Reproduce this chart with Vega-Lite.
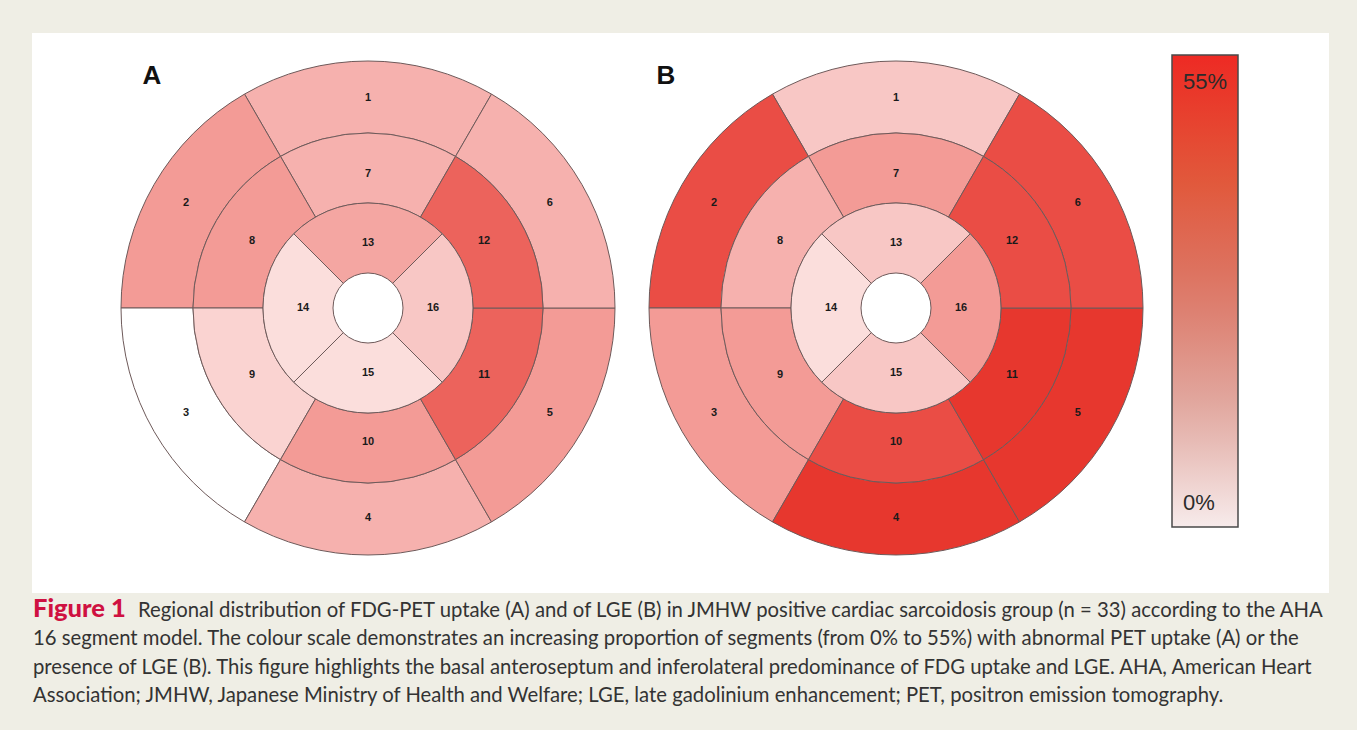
{
  "$schema": "https://vega.github.io/schema/vega-lite/v6.json",
  "background": "#efeee5",
  "padding": {"left": 32, "top": 33, "right": 28, "bottom": 0},
  "autosize": {"type": "pad"},
  "spacing": 0,
  "config": {"view": {"stroke": null}},
  "datasets": {
    "seg": [
      {"chart": "A", "ring": "basal", "seg": 1, "pct": 21.2},
      {"chart": "A", "ring": "basal", "seg": 2, "pct": 27.3},
      {"chart": "A", "ring": "basal", "seg": 3, "pct": 0},
      {"chart": "A", "ring": "basal", "seg": 4, "pct": 21.2},
      {"chart": "A", "ring": "basal", "seg": 5, "pct": 27.3},
      {"chart": "A", "ring": "basal", "seg": 6, "pct": 21.2},
      {"chart": "A", "ring": "mid", "seg": 7, "pct": 21.2},
      {"chart": "A", "ring": "mid", "seg": 8, "pct": 27.3},
      {"chart": "A", "ring": "mid", "seg": 9, "pct": 12.1},
      {"chart": "A", "ring": "mid", "seg": 10, "pct": 27.3},
      {"chart": "A", "ring": "mid", "seg": 11, "pct": 42.4},
      {"chart": "A", "ring": "mid", "seg": 12, "pct": 42.4},
      {"chart": "A", "ring": "apical", "seg": 13, "pct": 24.2},
      {"chart": "A", "ring": "apical", "seg": 14, "pct": 9.1},
      {"chart": "A", "ring": "apical", "seg": 15, "pct": 9.1},
      {"chart": "A", "ring": "apical", "seg": 16, "pct": 15.2},
      {"chart": "B", "ring": "basal", "seg": 1, "pct": 15.2},
      {"chart": "B", "ring": "basal", "seg": 2, "pct": 48.5},
      {"chart": "B", "ring": "basal", "seg": 3, "pct": 27.3},
      {"chart": "B", "ring": "basal", "seg": 4, "pct": 54.5},
      {"chart": "B", "ring": "basal", "seg": 5, "pct": 54.5},
      {"chart": "B", "ring": "basal", "seg": 6, "pct": 48.5},
      {"chart": "B", "ring": "mid", "seg": 7, "pct": 27.3},
      {"chart": "B", "ring": "mid", "seg": 8, "pct": 21.2},
      {"chart": "B", "ring": "mid", "seg": 9, "pct": 27.3},
      {"chart": "B", "ring": "mid", "seg": 10, "pct": 48.5},
      {"chart": "B", "ring": "mid", "seg": 11, "pct": 54.5},
      {"chart": "B", "ring": "mid", "seg": 12, "pct": 48.5},
      {"chart": "B", "ring": "apical", "seg": 13, "pct": 15.2},
      {"chart": "B", "ring": "apical", "seg": 14, "pct": 9.1},
      {"chart": "B", "ring": "apical", "seg": 15, "pct": 15.2},
      {"chart": "B", "ring": "apical", "seg": 16, "pct": 27.3}
    ],
    "letters": [{"chart": "A"}, {"chart": "B"}],
    "caption": [
      {"line": 1, "part": "head", "text": "Figure 1"},
      {"line": 1, "part": "first", "text": "Regional distribution of FDG-PET uptake (A) and of LGE (B) in JMHW positive cardiac sarcoidosis group (n = 33) according to the AHA"},
      {"line": 2, "part": "body", "text": "16 segment model. The colour scale demonstrates an increasing proportion of segments (from 0% to 55%) with abnormal PET uptake (A) or the"},
      {"line": 3, "part": "body", "text": "presence of LGE (B). This figure highlights the basal anteroseptum and inferolateral predominance of FDG uptake and LGE. AHA, American Heart"},
      {"line": 4, "part": "body", "text": "Association; JMHW, Japanese Ministry of Health and Welfare; LGE, late gadolinium enhancement; PET, positron emission tomography."}
    ]
  },
  "vconcat": [
    {
      "width": 1297,
      "height": 560,
      "view": {"fill": "#ffffff", "stroke": null},
      "data": {"name": "seg"},
      "encoding": {
        "x": {"field": "chart", "type": "nominal", "scale": {"type": "point", "domain": ["A", "B"], "range": [336, 864], "padding": 0}, "axis": null},
        "y": {"field": "chart", "type": "nominal", "scale": {"type": "point", "domain": ["A", "B"], "range": [275, 275], "padding": 0}, "axis": null}
      },
      "layer": [
        {
          "transform": [{"filter": "datum.chart === 'B' && datum.ring === 'apical'"}],
          "mark": {"type": "arc", "outerRadius": 105, "innerRadius": 35, "fillOpacity": 0, "strokeOpacity": 0},
          "encoding": {
            "theta": {"aggregate": "count", "type": "quantitative", "stack": true, "scale": {"domain": [0, 4], "range": [0.7853982, -5.4977871]}},
            "order": {"field": "seg", "type": "quantitative"},
            "color": {"field": "pct", "type": "quantitative", "scale": {"domain": [0, 55], "range": ["#f7ebeb", "#e1a9a1", "#dc7868", "#e15638", "#ee2a24"], "interpolate": "rgb"},
              "legend": {"type": "gradient", "orient": "none", "legendX": 1140, "legendY": 22, "direction": "vertical", "gradientLength": 472, "gradientThickness": 66, "title": null, "values": [2.8, 51.9], "labelExpr": "datum.value > 25 ? '55%' : '0%'", "labelOffset": -55, "labelFontSize": 22, "labelFont": "Liberation Sans", "labelColor": "#2b2b2b", "gradientStrokeColor": "#4a4a4a", "gradientStrokeWidth": 1.5}}
          }
        },
        {
          "transform": [{"filter": "datum.chart === 'A' && datum.ring === 'basal'"}],
          "mark": {"type": "arc", "outerRadius": 247, "innerRadius": 175, "stroke": "#6e5a5a", "strokeWidth": 1},
          "encoding": {
            "theta": {"aggregate": "count", "type": "quantitative", "stack": true, "scale": {"domain": [0, 6], "range": [0.5235988, -5.7595865]}},
            "order": {"field": "seg", "type": "quantitative"},
            "fill": {"field": "pct", "type": "quantitative", "scale": {"domain": [0, 55], "range": ["#ffffff", "#e7352c"], "interpolate": "rgb"}, "legend": null}
          }
        },
        {
          "transform": [{"filter": "datum.chart === 'A' && datum.ring === 'mid'"}],
          "mark": {"type": "arc", "outerRadius": 175, "innerRadius": 105, "stroke": "#6e5a5a", "strokeWidth": 1},
          "encoding": {
            "theta": {"aggregate": "count", "type": "quantitative", "stack": true, "scale": {"domain": [0, 6], "range": [0.5235988, -5.7595865]}},
            "order": {"field": "seg", "type": "quantitative"},
            "fill": {"field": "pct", "type": "quantitative", "legend": null}
          }
        },
        {
          "transform": [{"filter": "datum.chart === 'A' && datum.ring === 'apical'"}],
          "mark": {"type": "arc", "outerRadius": 105, "innerRadius": 35, "stroke": "#6e5a5a", "strokeWidth": 1},
          "encoding": {
            "theta": {"aggregate": "count", "type": "quantitative", "stack": true, "scale": {"domain": [0, 4], "range": [0.7853982, -5.4977871]}},
            "order": {"field": "seg", "type": "quantitative"},
            "fill": {"field": "pct", "type": "quantitative", "legend": null}
          }
        },
        {
          "transform": [{"filter": "datum.chart === 'B' && datum.ring === 'basal'"}],
          "mark": {"type": "arc", "outerRadius": 247, "innerRadius": 175, "stroke": "#6e5a5a", "strokeWidth": 1},
          "encoding": {
            "theta": {"aggregate": "count", "type": "quantitative", "stack": true, "scale": {"domain": [0, 6], "range": [0.5235988, -5.7595865]}},
            "order": {"field": "seg", "type": "quantitative"},
            "fill": {"field": "pct", "type": "quantitative", "legend": null}
          }
        },
        {
          "transform": [{"filter": "datum.chart === 'B' && datum.ring === 'mid'"}],
          "mark": {"type": "arc", "outerRadius": 175, "innerRadius": 105, "stroke": "#6e5a5a", "strokeWidth": 1},
          "encoding": {
            "theta": {"aggregate": "count", "type": "quantitative", "stack": true, "scale": {"domain": [0, 6], "range": [0.5235988, -5.7595865]}},
            "order": {"field": "seg", "type": "quantitative"},
            "fill": {"field": "pct", "type": "quantitative", "legend": null}
          }
        },
        {
          "transform": [{"filter": "datum.chart === 'B' && datum.ring === 'apical'"}],
          "mark": {"type": "arc", "outerRadius": 105, "innerRadius": 35, "stroke": "#6e5a5a", "strokeWidth": 1},
          "encoding": {
            "theta": {"aggregate": "count", "type": "quantitative", "stack": true, "scale": {"domain": [0, 4], "range": [0.7853982, -5.4977871]}},
            "order": {"field": "seg", "type": "quantitative"},
            "fill": {"field": "pct", "type": "quantitative", "legend": null}
          }
        },
        {
          "transform": [{"filter": "datum.chart === 'A' && datum.ring === 'basal'"}],
          "mark": {"type": "text", "radius": 210, "fontSize": 11, "fontWeight": "bold", "font": "Liberation Sans", "color": "#1a1a1a"},
          "encoding": {
            "theta": {"aggregate": "count", "type": "quantitative", "stack": true, "scale": {"domain": [0, 6], "range": [0.5235988, -5.7595865]}},
            "order": {"field": "seg", "type": "quantitative"},
            "text": {"field": "seg", "type": "nominal"}
          }
        },
        {
          "transform": [{"filter": "datum.chart === 'A' && datum.ring === 'mid'"}],
          "mark": {"type": "text", "radius": 134, "fontSize": 11, "fontWeight": "bold", "font": "Liberation Sans", "color": "#1a1a1a"},
          "encoding": {
            "theta": {"aggregate": "count", "type": "quantitative", "stack": true, "scale": {"domain": [0, 6], "range": [0.5235988, -5.7595865]}},
            "order": {"field": "seg", "type": "quantitative"},
            "text": {"field": "seg", "type": "nominal"}
          }
        },
        {
          "transform": [{"filter": "datum.chart === 'A' && datum.ring === 'apical'"}],
          "mark": {"type": "text", "radius": 65, "fontSize": 11, "fontWeight": "bold", "font": "Liberation Sans", "color": "#1a1a1a"},
          "encoding": {
            "theta": {"aggregate": "count", "type": "quantitative", "stack": true, "scale": {"domain": [0, 4], "range": [0.7853982, -5.4977871]}},
            "order": {"field": "seg", "type": "quantitative"},
            "text": {"field": "seg", "type": "nominal"}
          }
        },
        {
          "transform": [{"filter": "datum.chart === 'B' && datum.ring === 'basal'"}],
          "mark": {"type": "text", "radius": 210, "fontSize": 11, "fontWeight": "bold", "font": "Liberation Sans", "color": "#1a1a1a"},
          "encoding": {
            "theta": {"aggregate": "count", "type": "quantitative", "stack": true, "scale": {"domain": [0, 6], "range": [0.5235988, -5.7595865]}},
            "order": {"field": "seg", "type": "quantitative"},
            "text": {"field": "seg", "type": "nominal"}
          }
        },
        {
          "transform": [{"filter": "datum.chart === 'B' && datum.ring === 'mid'"}],
          "mark": {"type": "text", "radius": 134, "fontSize": 11, "fontWeight": "bold", "font": "Liberation Sans", "color": "#1a1a1a"},
          "encoding": {
            "theta": {"aggregate": "count", "type": "quantitative", "stack": true, "scale": {"domain": [0, 6], "range": [0.5235988, -5.7595865]}},
            "order": {"field": "seg", "type": "quantitative"},
            "text": {"field": "seg", "type": "nominal"}
          }
        },
        {
          "transform": [{"filter": "datum.chart === 'B' && datum.ring === 'apical'"}],
          "mark": {"type": "text", "radius": 65, "fontSize": 11, "fontWeight": "bold", "font": "Liberation Sans", "color": "#1a1a1a"},
          "encoding": {
            "theta": {"aggregate": "count", "type": "quantitative", "stack": true, "scale": {"domain": [0, 4], "range": [0.7853982, -5.4977871]}},
            "order": {"field": "seg", "type": "quantitative"},
            "text": {"field": "seg", "type": "nominal"}
          }
        },
        {
          "data": {"name": "letters"},
          "transform": [{"filter": "datum.chart === 'A'"}],
          "mark": {"type": "text", "dx": -216, "dy": -224, "fontSize": 26, "fontWeight": "bold", "font": "Liberation Sans", "color": "#111111", "baseline": "alphabetic", "align": "center"},
          "encoding": {"text": {"field": "chart", "type": "nominal"}}
        },
        {
          "data": {"name": "letters"},
          "transform": [{"filter": "datum.chart === 'B'"}],
          "mark": {"type": "text", "dx": -230, "dy": -224, "fontSize": 26, "fontWeight": "bold", "font": "Liberation Sans", "color": "#111111", "baseline": "alphabetic", "align": "center"},
          "encoding": {"text": {"field": "chart", "type": "nominal"}}
        }
      ],
      "resolve": {"scale": {"theta": "independent"}}
    },
    {
      "width": 1297,
      "height": 137,
      "view": {"stroke": null},
      "data": {"name": "caption"},
      "encoding": {
        "x": {"datum": 0, "type": "quantitative", "scale": {"domain": [0, 1]}, "axis": null},
        "y": {"field": "line", "type": "ordinal", "scale": {"type": "point", "domain": [1, 2, 3, 4], "range": [24, 109], "padding": 0}, "axis": null},
        "text": {"field": "text", "type": "nominal"}
      },
      "layer": [
        {
          "transform": [{"filter": "datum.part === 'head'"}],
          "mark": {"type": "text", "align": "left", "baseline": "alphabetic", "dx": 1, "font": "Lato", "fontSize": 25.5, "fontWeight": 900, "color": "#cf1141"}
        },
        {
          "transform": [{"filter": "datum.part === 'first'"}],
          "mark": {"type": "text", "align": "left", "baseline": "alphabetic", "dx": 106, "font": "Lato", "fontSize": 20.3, "color": "#333333"}
        },
        {
          "transform": [{"filter": "datum.part === 'body'"}],
          "mark": {"type": "text", "align": "left", "baseline": "alphabetic", "dx": 1, "font": "Lato", "fontSize": 20.3, "color": "#333333"}
        }
      ]
    }
  ]
}
